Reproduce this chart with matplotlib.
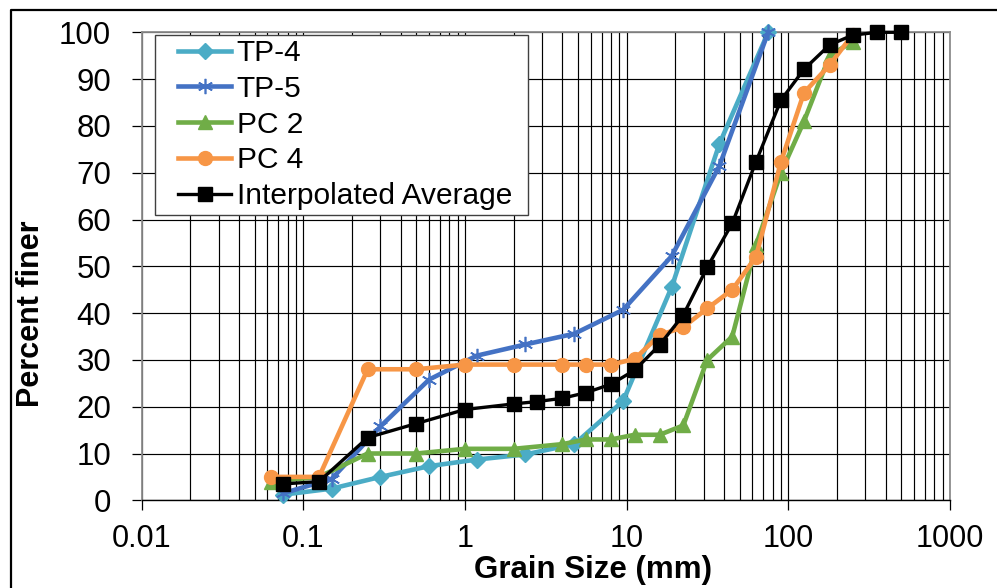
import matplotlib
matplotlib.use("Agg")
import matplotlib.pyplot as plt
from matplotlib.lines import Line2D
from matplotlib.patches import Rectangle
from matplotlib.ticker import FixedLocator, FixedFormatter, NullFormatter

plt.rcParams['font.family'] = ['Liberation Sans', 'DejaVu Sans']

# ---- data ----
tp_sizes = [0.075, 0.15, 0.3, 0.6, 1.18, 2.36, 4.75, 9.5, 19, 37.5, 75]
tp4_pass = [1.2, 2.5, 5.0, 7.3, 8.7, 9.8, 12.0, 21.2, 45.6, 76.2, 100]
tp5_pass = [1.5, 4.6, 15.8, 25.8, 30.9, 33.3, 35.6, 40.7, 52.2, 71.5, 100]

pc_sizes = [0.063, 0.125, 0.25, 0.5, 1, 2, 4, 5.6, 8, 11.2, 16, 22.4, 31.5, 45, 63, 90, 125, 180, 250]
pc2_pass = [4.0, 5.0, 10.0, 10.0, 11.0, 11.0, 12.0, 13.0, 13.0, 14.0, 14.0, 16.0, 30.0, 35.0, 54.5, 70.0, 81.0, 95.0, 98.0]
pc4_pass = [5.0, 5.0, 28.0, 28.0, 29.0, 29.0, 29.0, 29.0, 29.0, 30.2, 35.3, 37.0, 41.0, 45.0, 52.0, 72.3, 87.1, 93.0, 99.5]

avg_sizes = [0.075, 0.125, 0.25, 0.5, 1, 2, 2.8, 4, 5.6, 8, 11.2, 16, 22.4, 31.5, 45, 63, 90, 125, 180, 250, 355, 500]
avg_pass = [3.5, 4.0, 13.4, 16.4, 19.4, 20.6, 21.1, 21.8, 23.0, 24.8, 27.8, 33.2, 39.6, 49.8, 59.2, 72.3, 85.5, 92.1, 97.3, 99.4, 100, 100]

series_labels = ['TP-4', 'TP-5', 'PC 2', 'PC 4', 'Interpolated Average']
x_ticks = [0.01, 0.1, 1, 10, 100, 1000]
x_tick_labels = ['0.01', '0.1', '1', '10', '100', '1000']
y_ticks = [0, 10, 20, 30, 40, 50, 60, 70, 80, 90, 100]

W, H = 997, 588
fig = plt.figure(figsize=(W / 100, H / 100), dpi=100)
L, R, T, B = 141.7, 950.0, 32.3, 500.3
ax = fig.add_axes([L / W, 1 - B / H, (R - L) / W, (B - T) / H])

# outer chart border (only top/left visible)
fig.add_artist(Line2D([11 / W, 11 / W, 1.01], [-0.01, 1 - 10 / H, 1 - 10 / H],
                      transform=fig.transFigure, color='black', lw=1.6))

ax.set_xscale('log')
ax.set_xlim(0.01, 1000)
ax.set_ylim(0, 100)

# grid
minor = []
for d in [0.01, 0.1, 1, 10, 100]:
    for k in range(2, 10):
        minor.append(d * k)
ax.xaxis.set_major_locator(FixedLocator(x_ticks))
ax.xaxis.set_major_formatter(FixedFormatter(x_tick_labels))
ax.xaxis.set_minor_locator(FixedLocator(minor))
ax.xaxis.set_minor_formatter(NullFormatter())
ax.yaxis.set_major_locator(FixedLocator(y_ticks))
ax.grid(True, which='major', axis='both', color='#000000', lw=0.85, zorder=0)
ax.grid(True, which='minor', axis='x', color='#000000', lw=0.85, zorder=0)
ax.set_axisbelow(True)

for s in ['top', 'right', 'left']:
    ax.spines[s].set_color('#8c8c8c')
    ax.spines[s].set_linewidth(1.3)
ax.spines['bottom'].set_color('#000000')
ax.spines['bottom'].set_linewidth(1.0)

ax.tick_params(axis='x', which='major', direction='out', length=7, width=0.9,
               color='black', labelsize=22, pad=10)
ax.tick_params(axis='x', which='minor', length=0)
ax.tick_params(axis='y', which='major', direction='out', length=7, width=0.9,
               color='black', labelsize=22.5, pad=15)

lw = 3.3
h1, = ax.plot(tp_sizes, tp4_pass, color='#4BACC6', lw=lw, marker='D', ms=8,
              label=series_labels[0], zorder=3)
h2, = ax.plot(tp_sizes, tp5_pass, color='#4472C4', lw=lw, marker=(6, 2, 0), ms=11,
              mew=1.2, mec='#4472C4', label=series_labels[1], zorder=3)
h3, = ax.plot(pc_sizes, pc2_pass, color='#70AD47', lw=lw, marker='^', ms=10,
              label=series_labels[2], zorder=3)
h4, = ax.plot(pc_sizes, pc4_pass, color='#F79646', lw=lw, marker='o', ms=10,
              label=series_labels[3], zorder=3)
h5, = ax.plot(avg_sizes, avg_pass, color='#000000', lw=2.4, marker='s', ms=10.5,
              label=series_labels[4], zorder=3)

for h in (h1, h2, h3, h4, h5):
    h.set_clip_on(False)

# legend box drawn in figure pixels
box = Rectangle((155 / W, 1 - 215 / H), (528 - 155) / W, (215 - 35) / H,
                transform=fig.transFigure, facecolor='white', edgecolor='#404040',
                lw=1.0, zorder=4)
fig.add_artist(box)
leg = fig.legend(handles=[h1, h2, h3, h4, h5], loc='upper left',
                 bbox_to_anchor=(177.7 / W, 1 - 39 / H), frameon=False,
                 fontsize=21.5, borderpad=0, borderaxespad=0, handlelength=1.8,
                 handletextpad=0.17, labelspacing=0.26)
leg.set_zorder(5)

fig.text(31 / W, 1 - 313.5 / H, 'Percent finer', rotation=90, ha='center', va='center',
         fontsize=22, fontweight='bold')
fig.text(593.5 / W, 1 - 570 / H, 'Grain Size (mm)', ha='center', va='center',
         fontsize=22.5, fontweight='bold')

fig.savefig('out.png', dpi=100)
